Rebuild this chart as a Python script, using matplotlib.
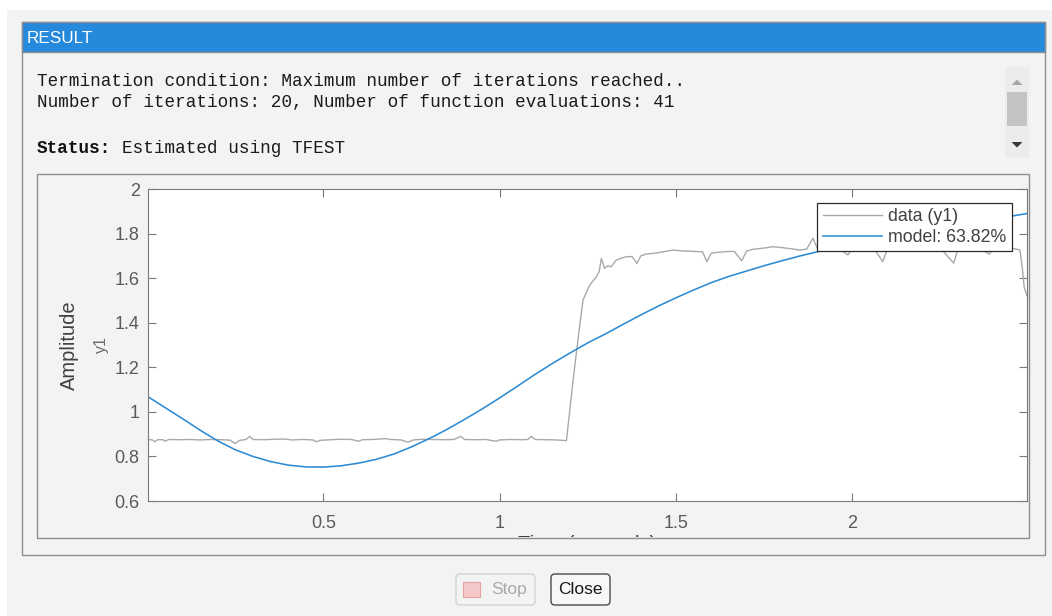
import matplotlib
matplotlib.use("Agg")
import matplotlib.pyplot as plt
from matplotlib.patches import Rectangle, FancyBboxPatch, Polygon
from matplotlib.ticker import FuncFormatter, FixedLocator

# ---------------- data ----------------
data_t = [0.0025, 0.015, 0.022, 0.03, 0.045, 0.052, 0.06, 0.09, 0.12, 0.15, 0.18, 0.21,
          0.235, 0.25, 0.262, 0.28, 0.291, 0.30, 0.33, 0.36, 0.39, 0.41, 0.44, 0.47, 0.48,
          0.49, 0.52, 0.55, 0.58, 0.60, 0.61, 0.64, 0.675, 0.69, 0.72, 0.74, 0.755, 0.78,
          0.81, 0.84, 0.87, 0.89, 0.90, 0.93, 0.96, 0.99, 1.00, 1.03, 1.06, 1.08, 1.089,
          1.10, 1.13, 1.16, 1.189, 1.208, 1.225, 1.236, 1.255, 1.274, 1.282, 1.288, 1.297,
          1.306, 1.316, 1.330, 1.345, 1.359, 1.375, 1.389, 1.40, 1.415, 1.44, 1.47, 1.491,
          1.52, 1.55, 1.575, 1.587, 1.60, 1.62, 1.642, 1.665, 1.686, 1.70, 1.72, 1.75,
          1.774, 1.80, 1.83, 1.85, 1.87, 1.888, 1.90, 1.93, 1.96, 1.987, 2.00, 2.03, 2.06,
          2.086, 2.10, 2.13, 2.16, 2.19, 2.22, 2.25, 2.287, 2.30, 2.33, 2.36, 2.388, 2.40,
          2.43, 2.46, 2.475, 2.482, 2.487, 2.495]
data_y = [0.876, 0.874, 0.866, 0.875, 0.875, 0.868, 0.876, 0.875, 0.876, 0.874, 0.876, 0.875,
          0.873, 0.858, 0.872, 0.876, 0.890, 0.876, 0.875, 0.877, 0.878, 0.874, 0.876, 0.874, 0.866,
          0.872, 0.875, 0.877, 0.876, 0.868, 0.875, 0.876, 0.880, 0.876, 0.874, 0.864, 0.874, 0.877,
          0.876, 0.875, 0.876, 0.890, 0.876, 0.875, 0.876, 0.868, 0.874, 0.876, 0.875, 0.876, 0.890,
          0.876, 0.875, 0.874, 0.871, 1.143, 1.367, 1.502, 1.569, 1.606, 1.630, 1.689, 1.644,
          1.655, 1.651, 1.681, 1.690, 1.696, 1.697, 1.666, 1.700, 1.708, 1.712, 1.720, 1.726,
          1.722, 1.720, 1.718, 1.674, 1.712, 1.716, 1.719, 1.720, 1.678, 1.722, 1.730, 1.735,
          1.741, 1.737, 1.731, 1.726, 1.730, 1.779, 1.735, 1.736, 1.735, 1.704, 1.734, 1.737, 1.735,
          1.674, 1.734, 1.736, 1.735, 1.737, 1.735, 1.734, 1.667, 1.733, 1.736, 1.734, 1.708, 1.733,
          1.735, 1.732, 1.726, 1.640, 1.560, 1.520]

model_t = [0.0025, 0.05, 0.10, 0.15, 0.20, 0.25, 0.30, 0.35, 0.40, 0.45, 0.50, 0.55, 0.60,
           0.65, 0.70, 0.75, 0.80, 0.85, 0.90, 0.95, 1.00, 1.05, 1.10, 1.15, 1.20, 1.25, 1.30,
           1.35, 1.40, 1.45, 1.50, 1.55, 1.60, 1.65, 1.70, 1.75, 1.80, 1.85, 1.90, 1.95, 2.00,
           2.05, 2.10, 2.15, 2.20, 2.25, 2.30, 2.35, 2.40, 2.45, 2.495]
model_y = [1.068, 1.020, 0.970, 0.918, 0.870, 0.830, 0.800, 0.777, 0.761, 0.753, 0.752, 0.758,
           0.770, 0.787, 0.811, 0.843, 0.880, 0.921, 0.966, 1.013, 1.063, 1.115, 1.168, 1.218,
           1.265, 1.310, 1.350, 1.393, 1.435, 1.475, 1.512, 1.547, 1.580, 1.608, 1.632, 1.656,
           1.678, 1.699, 1.718, 1.736, 1.755, 1.771, 1.786, 1.800, 1.814, 1.827, 1.840, 1.853,
           1.866, 1.878, 1.890]

series_labels = ["data (y1)", "model: 63.82%"]
x_ticks = [0.5, 1.0, 1.5, 2.0]
y_ticks = [0.6, 0.8, 1.0, 1.2, 1.4, 1.6, 1.8, 2.0]
x_range = (0.0025, 2.495)
y_range = (0.6, 2.0)
status_lines = ["Termination condition: Maximum number of iterations reached..",
                "Number of iterations: 20, Number of function evaluations: 41"]
status_word = "Status:"
status_text = "Estimated using TFEST"

# ---------------- figure / chrome ----------------
W, H = 1052, 616
fig = plt.figure(figsize=(W / 100, H / 100), dpi=100)
fig.patch.set_facecolor("white")

bg = fig.add_axes([0, 0, 1, 1], zorder=0)
bg.set_xlim(0, W)
bg.set_ylim(H, 0)
bg.axis("off")

SANS = ["Liberation Sans", "DejaVu Sans"]
MONO = ["Liberation Mono", "DejaVu Sans Mono"]
PANEL = "#f3f3f3"
BORDER = "#8e8e8e"


def box(x0, y0, x1, y1, **kw):
    r = Rectangle((x0, y0), x1 - x0, y1 - y0, **kw)
    bg.add_patch(r)
    return r


box(7, 10, W, H, fc=PANEL, ec="none")
box(22, 22, 1045, 555, fc=PANEL, ec=BORDER, lw=1.0)
box(22, 22, 1045, 52, fc="#2589dc", ec=BORDER, lw=1.0)
bg.text(27, 43, "RESULT", color="white", fontsize=12.3, family=SANS, va="baseline", ha="left")

bg.text(37, 86, status_lines[0], fontsize=12.7, family=MONO, color="#1a1a1a", va="baseline")
bg.text(37, 107, status_lines[1], fontsize=12.7, family=MONO, color="#1a1a1a", va="baseline")
bg.text(37, 153, status_word, fontsize=12.7, family=MONO, weight="bold",
        color="#111111", va="baseline")
bg.text(37 + 8 * 10.6, 153, status_text, fontsize=12.7, family=MONO, color="#1a1a1a",
        va="baseline")

# scrollbar
box(1005, 67, 1029, 158, fc="#ececec", ec="none")
box(1007, 92, 1027, 126, fc="#c3c3c3", ec="none")
bg.add_patch(Polygon([[1011.5, 85], [1022.5, 85], [1017, 79.5]], closed=True, fc="#a8a8a8", ec="none"))
bg.add_patch(Polygon([[1011.5, 142], [1022.5, 142], [1017, 147.5]], closed=True, fc="#3a3a3a", ec="none"))

# inner plot panel
box(37, 174, 1029, 538, fc=PANEL, ec=BORDER, lw=1.0)
clip_rect = Rectangle((37, 174), 1029 - 37, 537 - 174, transform=bg.transData)

# buttons
bg.add_patch(FancyBboxPatch((456, 574), 79, 31, boxstyle="round,pad=0,rounding_size=4",
                            fc=PANEL, ec="#d2d2d2", lw=1.0))
bg.add_patch(Rectangle((463, 582), 17, 15, fc="#f5c9c9", ec="#e3a3a3", lw=0.8))
bg.text(509, 589.5, "Stop", fontsize=12.5, family=SANS, color="#a9a9a9", ha="center", va="center")
bg.add_patch(FancyBboxPatch((551, 574), 59, 31, boxstyle="round,pad=0,rounding_size=4",
                            fc="#f7f7f7", ec="#4a4a4a", lw=1.0))
bg.text(580.5, 589.5, "Close", fontsize=12.5, family=SANS, color="#1a1a1a", ha="center", va="center")

# ---------------- plot axes ----------------
AX_L, AX_R, AX_T, AX_B = 148, 1027, 189, 501
ax = fig.add_axes([AX_L / W, 1 - AX_B / H, (AX_R - AX_L) / W, (AX_B - AX_T) / H], zorder=1)
ax.set_facecolor("white")

ax.plot(data_t, data_y, color="#a9a9a9", lw=1.0, label=series_labels[0])
ax.plot(model_t, model_y, color="#2d8bd3", lw=1.15, label=series_labels[1])

ax.set_xlim(*x_range)
ax.set_ylim(*y_range)
ax.xaxis.set_major_locator(FixedLocator(x_ticks))
ax.yaxis.set_major_locator(FixedLocator(y_ticks))
ax.xaxis.set_major_formatter(FuncFormatter(lambda v, p: "%g" % v))
ax.yaxis.set_major_formatter(FuncFormatter(lambda v, p: "%g" % round(v, 2)))

TICKC = "#7a7a7a"
for s in ax.spines.values():
    s.set_color(TICKC)
    s.set_linewidth(0.8)
ax.tick_params(direction="in", length=6, width=0.8, color=TICKC, top=True, right=True,
               labelsize=13, labelcolor="#5a5a5a")
ax.tick_params(axis="x", pad=10)
ax.tick_params(axis="y", pad=6)
for lab in ax.get_xticklabels() + ax.get_yticklabels():
    lab.set_family(SANS)

ax.set_ylabel("Amplitude", fontsize=14.5, family=SANS, color="#404040")
ax.yaxis.label.set_va("center")
ax.yaxis.set_label_coords((69 - AX_L) / (AX_R - AX_L), 0.5)
ax.text((101 - AX_L) / (AX_R - AX_L), 0.5, "y1", transform=ax.transAxes, rotation=90,
        fontsize=11.5, family=SANS, color="#6a6a6a", ha="center", va="center")

ax.set_xlabel("Time (seconds)", fontsize=14.5, family=SANS, color="#404040")
ax.xaxis.label.set_va("top")
ax.xaxis.set_label_coords(0.5, (AX_B - 534.5) / (AX_B - AX_T))
ax.xaxis.label.set_clip_path(clip_rect)

leg = ax.legend(loc="upper right", bbox_to_anchor=(1012, 203), bbox_transform=bg.transData,
                borderaxespad=0, fancybox=False, framealpha=1, edgecolor="#2a2a2a",
                prop={"family": SANS, "size": 12.8}, handlelength=3.35, handletextpad=0.35,
                borderpad=0.3, labelspacing=0.2)
leg.get_frame().set_linewidth(0.9)
for txt in leg.get_texts():
    txt.set_color("#404040")

fig.savefig("out.png", dpi=100)
